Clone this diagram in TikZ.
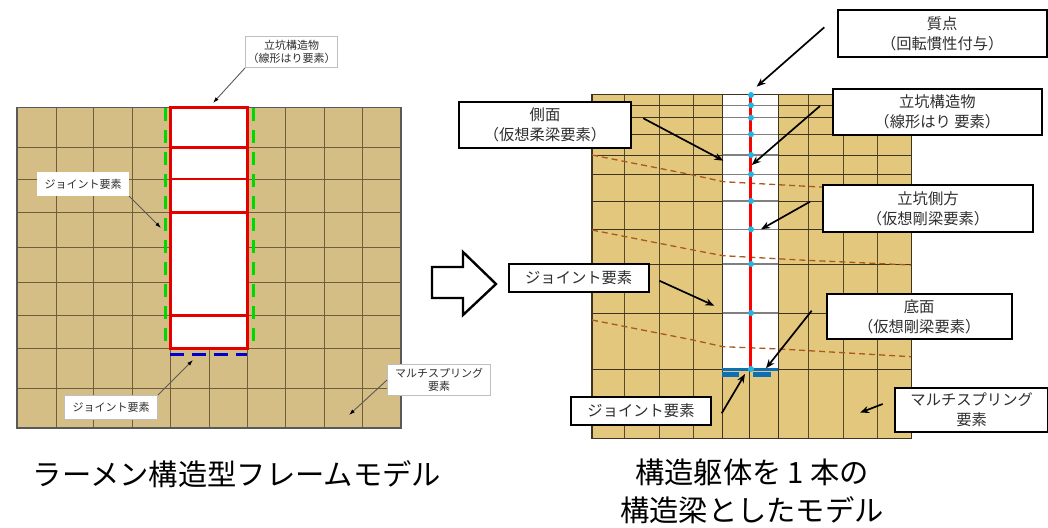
\documentclass[tikz,border=0pt]{standalone}
\usepackage{fontspec}
\setmainfont{Noto Sans CJK JP}
\usetikzlibrary{arrows.meta}
\definecolor{tanL}{HTML}{D4BE85}
\definecolor{tanR}{HTML}{E3C77D}
\definecolor{gridL}{HTML}{6E5F3A}
\definecolor{gridR}{HTML}{3E3520}
\definecolor{brownD}{HTML}{A8591F}
\definecolor{cyanD}{HTML}{1FB6E6}
\definecolor{blueB}{HTML}{0F6FB5}
\definecolor{txtG}{HTML}{2E2E2E}
\tikzset{
  x=1pt,y=-1pt,
  smallbox/.style={draw=#1,fill=white,line width=1pt,inner sep=0pt,align=center,font=\fontsize{11}{13.5}\selectfont,text=txtG,anchor=north west},
  smallbox/.default=white,
  bigbox/.style={draw=black,fill=white,line width=2pt,inner sep=0pt,align=center,font=\fontsize{15.3}{20}\selectfont,text=txtG,anchor=north west},
  thinarrow/.style={draw=gray!70!black,line width=.9pt,-{Latex[length=6pt,width=4pt,black]}},
  boldarrow/.style={draw=black,line width=1.7pt,-{Stealth[length=9pt,width=7pt]}},
  caption/.style={font=\fontsize{29.3}{38}\selectfont,align=center,inner sep=0pt},
  gridl/.style={draw=gridL,line width=1pt},
  gridr/.style={draw=gridR,line width=1pt},
  brownline/.style={draw=brownD,line width=1.3pt,dash pattern=on 6pt off 4pt},
  massdot/.style={circle,fill=cyanD,inner sep=0pt,minimum size=6pt},
}
\newcommand{\bx}[7]{\node[#1,minimum width=#5-#3,minimum height=#6-#4] (#2) at (#3,#4) {#7};}
\begin{document}
\begin{tikzpicture}
\useasboundingbox (0,0) rectangle (1048,527);
% ---------- left model
\fill[tanL] (17,107.5) rectangle (401,428);
\foreach \xx in {56,93.3,132.7,170.7,209,247,285.7,324,362.7} \draw[gridl] (\xx,107.5) -- (\xx,428);
\foreach \yy in {147.3,179,212.7,247.3,282.3,315.3,348.3,388} \draw[gridl] (17,\yy) -- (401,\yy);
\draw[draw=gray!70!black,line width=1.4pt] (17,107.5) rectangle (401,428);
\fill[white] (170.7,107.5) rectangle (247,348.3);
\draw[red!90!black,line width=3pt] (170.7,107.5) rectangle (247,348.3);
\foreach \yy in {147.3,179,212.7,315.3} {\draw[red!90!black,line width=2.7pt] (170.7,\yy) -- (247,\yy);}
\draw[green!85!black,line width=3pt,dash pattern=on 13pt off 9pt] (165,108) -- (165,348);
\draw[green!85!black,line width=3pt,dash pattern=on 13pt off 9pt] (253,108) -- (253,348);
\draw[blue!80!black,line width=2.6pt,dash pattern=on 14pt off 8pt] (170,354.3) -- (247,354.3);
% left labels
\bx{smallbox=lightgray}{la}{245}{36}{337}{67}{立坑構造物\\（線形はり要素）}
\bx{smallbox}{lb}{37}{172}{128}{195}{ジョイント要素}
\bx{smallbox=lightgray}{lc}{64}{395}{157}{419}{ジョイント要素}
\bx{smallbox=lightgray}{ld}{387}{364}{490}{395}{マルチスプリング\\要素}
\coordinate (lat) at (213,103);
\coordinate (lbt) at (161,228);
\coordinate (lct) at (193,360);
\coordinate (ldt) at (349,415);
\draw[thinarrow] (la.south west) -- (lat);
\draw[thinarrow] (lb.south east) -- (lbt);
\draw[thinarrow] (lc.north east) -- (lct);
\draw[thinarrow] (ld.west) -- (ldt);
% big arrow
\draw[black,line width=2.4pt,fill=white,miter limit=10] (432,267) -- (463,267) -- (463,252) -- (496,284) -- (463,315) -- (463,298) -- (432,298) -- cycle;
% ---------- right model
\fill[tanR] (592,94.7) rectangle (911.5,438.3);
\foreach \xx in {624.7,659.3,693.3,808.3,843.3,877.7} \draw[gridr,draw opacity=.85] (\xx,94.7) -- (\xx,438.3);
\foreach \xx in {722.7,749.3,778.3} \draw[gridr] (\xx,369) -- (\xx,438.3);
\foreach \yy in {105.3,117.7,134.3,155,174.3,201,229.3,264,313,369} \draw[gridr] (592,\yy) -- (911.5,\yy);
\fill[white] (722.7,94.7) rectangle (778.3,369);
\foreach \yy in {105.3,117.7,134.3,155,174.3,201,229.3,264,313} \draw[gray,line width=1.4pt] (722.7,\yy) -- (778.3,\yy);
\draw[gridr] (722.7,94.7) -- (722.7,369);
\draw[gridr] (778.3,94.7) -- (778.3,369);
\draw[gridr,line width=1.5pt] (592,94.7) rectangle (911.5,438.3);
\draw[brownline] (592,155) -- (693,175) -- (723,181.7) -- (820,187) -- (911,191);
\draw[brownline] (592,230) -- (693,250) -- (723,255.7) -- (800,260) -- (911,265);
\draw[brownline] (592,320) -- (693,340) -- (723,346.7) -- (780,349) -- (911,356.7);
\draw[red,line width=3pt] (750,95) -- (750,369);
\fill[blueB] (722,367.5) rectangle (778.3,370.5);
\fill[blueB] (722,372) rectangle (739,376.5);
\fill[blueB] (753,372) rectangle (771,376.5);
\foreach \yy in {95,105.3,117.7,134.3,155,174.3,201,229.3,264,313,369} \node[massdot] at (751,\yy) {};
% right labels
\bx{bigbox}{ra}{836.7}{9.3}{1045.7}{56}{質点\\（回転慣性付与）}
\bx{bigbox}{rb}{832}{87.7}{1040.7}{134.3}{立坑構造物\\（線形はり 要素）}
\bx{bigbox}{rc}{822}{184}{1032}{230.7}{立坑側方\\（仮想剛梁要素）}
\bx{bigbox}{rd}{825.7}{292.7}{1010.7}{338.3}{底面\\（仮想剛梁要素）}
\bx{bigbox}{re}{894}{387}{1047.3}{431}{マルチスプリング\\要素}
\bx{bigbox}{rf}{458}{100.7}{630}{147.3}{側面\\（仮想柔梁要素）}
\bx{bigbox}{rg}{507.7}{262.7}{647.7}{291.3}{ジョイント要素}
\bx{bigbox}{rh}{570}{395.7}{710}{424.3}{ジョイント要素}
\coordinate (as) at (824.3,27.3);   \coordinate (at) at (756.7,86.7);
\coordinate (bs) at (820,106);      \coordinate (bt) at (751.7,165);
\coordinate (cs) at (810,201.7);    \coordinate (ct) at (761,229.3);
\coordinate (ds) at (811.7,310.7);  \coordinate (dt) at (766,368.3);
\coordinate (es) at (882.7,404);    \coordinate (et) at (860,412.7);
\coordinate (fs) at (643.3,118.3);  \coordinate (ft) at (723.3,160.7);
\coordinate (gs) at (659.3,280.7);  \coordinate (gt) at (714.3,305.7);
\coordinate (hs) at (721.7,413.3);  \coordinate (ht) at (745,374);
\foreach \p in {a,b,c,d,e,f,g,h} \draw[boldarrow] (\p s) -- (\p t);
% captions
\node[caption] (capl) at (237,474) {ラーメン構造型フレームモデル};
\node[caption] (capr) at (752,491) {構造躯体を\kern6pt 1\kern6pt 本の\\構造梁としたモデル};
\end{tikzpicture}
\end{document}
